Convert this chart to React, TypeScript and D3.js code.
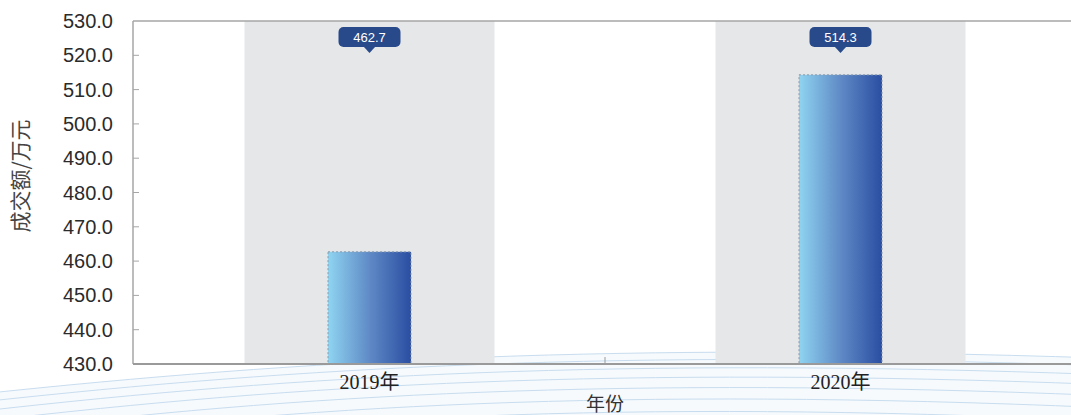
import React from "react";
import * as d3 from "d3";

const categories: string[] = ["2019年", "2020年"];
const values: number[] = [462.7, 514.3];
const yTicks: number[] = [430, 440, 450, 460, 470, 480, 490, 500, 510, 520, 530];
const yTitle = "成交额/万元";
const xTitle = "年份";

const W = 1071;
const H = 415;
const M = { left: 134, right: -5, top: 21, bottom: 51 };

// decorative background wave lines (offsets in px)
const waveOffsets: number[] = [0, 7, 15, 24, 34, 45, 57];

export default function App() {
  const x = d3
    .scaleBand<string>()
    .domain(categories)
    .range([M.left, W - M.right])
    .paddingInner(0)
    .paddingOuter(0);
  const y = d3.scaleLinear().domain([430, 530]).range([H - M.bottom, M.top]);
  const bw = x.bandwidth();
  const barW = 83;
  const shadeW = 250;
  const y0 = y(430);

  const wavePath = (o: number) =>
    `M-20,${394 + o * 1.15} C300,${360 + o} 620,${342 + o} 1100,${358 + o * 1.1}`;
  const waveFill = `M-20,394 C300,360 620,342 1100,358 L1100,${H} L-20,${H} Z`;

  return (
    <svg
      width={W}
      height={H}
      style={{ display: "block", background: "#fff", position: "fixed", left: 0, top: 0 }}
    >
      <defs>
        <linearGradient id="barGrad" x1="0" x2="1" y1="0" y2="0">
          <stop offset="0%" stopColor="#8fd4f1" />
          <stop offset="50%" stopColor="#5f8ac6" />
          <stop offset="100%" stopColor="#2a4ea2" />
        </linearGradient>
      </defs>
      {/* background decoration */}
      <path d={waveFill} fill="#f6fafd" />
      {waveOffsets.map((o, i) => (
        <path key={i} d={wavePath(o)} fill="none" stroke="#c8ddef" strokeWidth={1} />
      ))}
      {/* shaded bands */}
      {categories.map((c) => (
        <rect
          key={"s" + c}
          x={(x(c) as number) + bw / 2 - shadeW / 2}
          y={M.top}
          width={shadeW}
          height={y0 - M.top}
          fill="#e6e7e9"
        />
      ))}
      {/* bars */}
      {categories.map((c, i) => (
        <rect
          key={"b" + c}
          x={(x(c) as number) + bw / 2 - barW / 2}
          y={y(values[i])}
          width={barW}
          height={y0 - y(values[i])}
          fill="url(#barGrad)"
          stroke="#8a9aaa"
          strokeWidth={1}
          strokeDasharray="2,2"
        />
      ))}
      {/* top border */}
      <line x1={M.left - 1} x2={W} y1={M.top} y2={M.top} stroke="#a6a6a6" strokeWidth={1.5} />
      {/* y axis */}
      <line x1={M.left - 1} x2={M.left - 1} y1={M.top} y2={y0} stroke="#a6a6a6" strokeWidth={1.5} />
      {yTicks.map((t) => (
        <g key={t}>
          {t !== 430 && t !== 530 && (
            <line x1={M.left - 1} x2={M.left + 5} y1={y(t)} y2={y(t)} stroke="#a6a6a6" strokeWidth={1} />
          )}
          <text
            x={113}
            y={y(t)}
            dy="0.35em"
            textAnchor="end"
            fontFamily="'Liberation Sans', Arial, sans-serif"
            fontSize={20}
            fill="#2b2b2b"
          >
            {t.toFixed(1)}
          </text>
        </g>
      ))}
      {/* x axis */}
      <line x1={M.left - 1} x2={W} y1={y0} y2={y0} stroke="#9a9a9a" strokeWidth={2} />
      {categories.slice(1).map((c) => (
        <line key={"t" + c} x1={x(c) as number} x2={x(c) as number} y1={y0} y2={y0 - 7} stroke="#9a9a9a" strokeWidth={1} />
      ))}
      {categories.map((c) => (
        <text
          key={"l" + c}
          x={(x(c) as number) + bw / 2}
          y={389}
          textAnchor="middle"
          fontFamily="'Liberation Serif', 'Times New Roman', 'Noto Sans CJK SC', serif"
          fontSize={20}
          fill="#222"
        >
          {c}
        </text>
      ))}
      <text
        x={x(categories[1]) as number}
        y={411}
        textAnchor="middle"
        fontFamily="'Noto Sans CJK SC', sans-serif"
        fontSize={19}
        fill="#333"
      >
        {xTitle}
      </text>
      <text
        transform={`translate(28,176) rotate(-90)`}
        textAnchor="middle"
        fontFamily="'Noto Sans CJK SC', sans-serif"
        fontSize={21}
        fill="#444"
      >
        {yTitle}
      </text>
      {/* value labels */}
      {categories.map((c, i) => {
        const cx = (x(c) as number) + bw / 2;
        const w = 62;
        const h = 20;
        const top = 27;
        return (
          <g key={"v" + c}>
            <rect x={cx - w / 2} y={top} width={w} height={h} rx={5} fill="#284a8b" />
            <path d={`M${cx - 6},${top + h - 0.5} L${cx},${top + h + 6} L${cx + 6},${top + h - 0.5} Z`} fill="#284a8b" />
            <text
              x={cx}
              y={top + h / 2}
              dy="0.36em"
              textAnchor="middle"
              fontFamily="'Liberation Sans', Arial, sans-serif"
              fontSize={13}
              fill="#fff"
            >
              {values[i].toFixed(1)}
            </text>
          </g>
        );
      })}
    </svg>
  );
}
